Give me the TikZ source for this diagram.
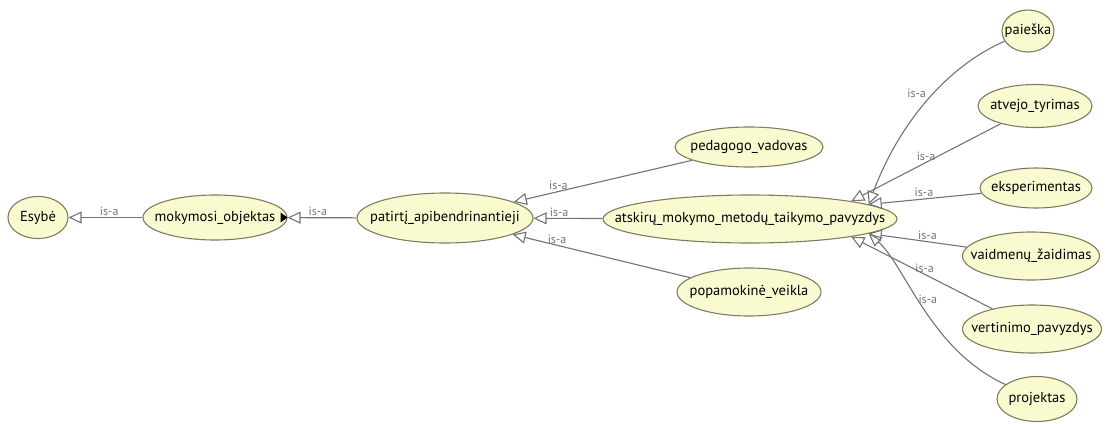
\documentclass[tikz,border=0pt]{standalone}
\usepackage{fontspec}
\setmainfont{PT Sans}
\usetikzlibrary{arrows.meta, shapes.geometric}

\definecolor{clsfill}{RGB}{250,250,208}
\definecolor{clsline}{RGB}{125,125,95}
\definecolor{edgegray}{RGB}{115,115,115}
\newcommand{\nm}[1]{\makebox[0pt]{#1}}

\begin{document}
\begin{tikzpicture}[x=1pt, y=-1pt,
    cls/.style={ellipse, draw=clsline, fill=clsfill, line width=1.1pt, inner sep=0pt,
                font=\fontsize{14.5}{16}\selectfont},
    isa/.style={{Triangle[open, length=13pt, width=12pt]}-, draw=edgegray, line width=1.1pt},
    lbl/.style={font=\fontsize{12}{14}\selectfont, text=edgegray, inner sep=1.5pt},
]
\useasboundingbox (0,0) rectangle (1108,423);

% classes
\node[cls, minimum width=60pt, minimum height=42pt] (esy) at (38,217.5) {\nm{Esybė}};
\node[cls, minimum width=144pt, minimum height=45pt] (mok) at (215,217.5) {\nm{mokymosi\_objektas}};
\node[cls, minimum width=176pt, minimum height=50pt] (pat) at (445,218) {\nm{patirtį\_apibendrinantieji}};
\node[cls, minimum width=294pt, minimum height=48pt] (ats) at (750,219) {\nm{atskirų\_mokymo\_metodų\_taikymo\_pavyzdys}};
\node[cls, minimum width=148pt, minimum height=40pt] (ped) at (749,147) {\nm{pedagogo\_vadovas}};
\node[cls, minimum width=144pt, minimum height=48pt] (pop) at (749,292) {\nm{popamokinė\_veikla}};
\node[cls, minimum width=52pt, minimum height=42pt] (pai) at (1028,31) {\nm{paieška}};
\node[cls, minimum width=114pt, minimum height=43pt] (atv) at (1035,106) {\nm{atvejo\_tyrimas}};
\node[cls, minimum width=112pt, minimum height=40pt] (eks) at (1036,188) {\nm{eksperimentas}};
\node[cls, minimum width=137pt, minimum height=48pt] (vai) at (1031,256) {\nm{vaidmenų\_žaidimas}};
\node[cls, minimum width=139pt, minimum height=48pt] (ver) at (1032,329) {\nm{vertinimo\_pavyzdys}};
\node[cls, minimum width=80pt, minimum height=45pt] (pro) at (1037,399) {\nm{projektas}};

% marker on mokymosi_objektas
\fill (mok.east) -- ++(-7,-5) -- ++(0,10) -- cycle;

% is-a links
\draw[isa] (esy) -- node[lbl, pos=0.55, above] {is-a} (mok);
\draw[isa] (mok) -- node[lbl, pos=0.44, above] {is-a} (pat);
\draw[isa] (pat) -- node[lbl, pos=0.25, above] {is-a} (ped);
\draw[isa] (pat) -- node[lbl, pos=0.37, above] {is-a} (ats);
\draw[isa] (pat) -- node[lbl, pos=0.25, above] {is-a} (pop);

\draw[isa] (ats.7) .. controls (900,120) and (950,65) .. node[lbl, pos=0.5, above left] {is-a} (pai);
\draw[isa] (ats.10) -- node[lbl, pos=0.5, above] {is-a} (atv);
\draw[isa] (ats.7) -- node[lbl, pos=0.49, above] {is-a} (eks);
\draw[isa] (ats.-7) -- node[lbl, pos=0.6, above] {is-a} (vai);
\draw[isa] (ats.-10) -- node[lbl, pos=0.52, above] {is-a} (ver);
\draw[isa] (ats.-7) .. controls (905,265) and (930,350) .. node[lbl, pos=0.45, right] {is-a} (pro);
\end{tikzpicture}
\end{document}
